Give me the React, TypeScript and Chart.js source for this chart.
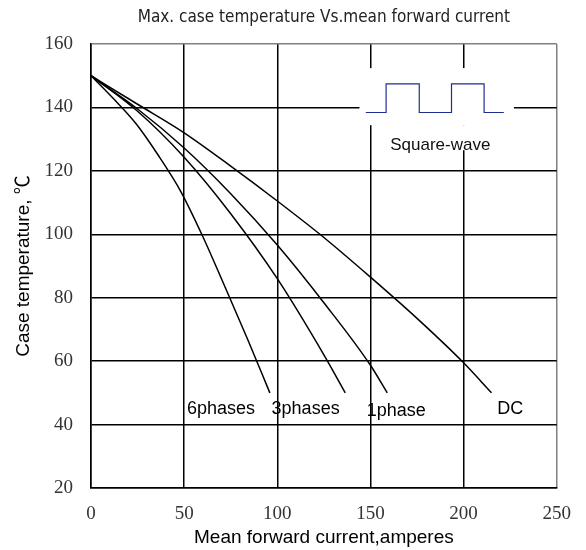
import React, { useEffect, useRef } from "react";
import { Chart, registerables } from "chart.js";

Chart.register(...registerables);

// ---- data ----
const xTicks = [0, 50, 100, 150, 200, 250];
const yTicks = [20, 40, 60, 80, 100, 120, 140, 160];

const dcCurrent = [0, 25, 50, 75, 100, 125, 150, 175, 200, 215];
const dcTemp = [150, 141, 132, 121.5, 110.5, 99, 86.5, 73.5, 59.5, 50];

const phase1Current = [0, 25, 50, 75, 100, 125, 150, 159];
const phase1Temp = [150, 139.5, 127.2, 112.8, 96.6, 78.4, 58.7, 50];

const phase3Current = [0, 25, 50, 75, 100, 125, 136.5];
const phase3Temp = [150, 138.8, 124.3, 106.5, 86, 62, 50];

const phase6Current = [0, 12, 24, 36, 48, 60, 72, 84, 96];
const phase6Temp = [150, 142.8, 135, 125, 113.7, 99.3, 83.3, 67, 50];

const waveX = [147.5, 158.4, 158.4, 176.2, 176.2, 193.5, 193.5, 211, 211, 221.6];
const waveY = [138.4, 138.4, 147.4, 147.4, 138.4, 138.4, 147.4, 147.4, 138.4, 138.4];

const curveLabels = ["6phases", "3phases", "1phase", "DC"];
const curveLabelX = [69.8, 115.2, 163.9, 225];
const curveLabelY = [45.0, 45.0, 44.4, 45.0];

const waveLabel = "Square-wave";
const waveLabelX = 187.5;
const waveLabelY = 128.2;

// white areas behind the inset (data units: x0, x1, yTop, yBottom)
const insetBoxes = [
  [144.1, 227, 152.4, 134.4],
  [152.1, 223.8, 134.4, 126.5],
];

const titleText = "Max. case temperature Vs.mean forward current";
const xTitle = "Mean forward current,amperes";
const yTitle = "Case temperature, \u2103";

const SANS = "'Liberation Sans', Arial, 'Noto Sans CJK SC', sans-serif";
const SERIF = "'Liberation Serif', 'Times New Roman', serif";
const NARROW = "'Liberation Sans Narrow', 'DejaVu Sans Condensed', 'Liberation Sans', sans-serif";

export default function App() {
  const ref = useRef<HTMLCanvasElement>(null);

  useEffect(() => {
    const canvas = ref.current;
    if (!canvas) return;

    const pts = (xs: number[], ys: number[]) => xs.map((x, i) => ({ x, y: ys[i] }));
    const curve = (label: string, xs: number[], ys: number[]) => ({
      label,
      data: pts(xs, ys),
      borderColor: "#000",
      borderWidth: 1.5,
      pointRadius: 0,
      fill: false,
      cubicInterpolationMode: "monotone" as const,
    });

    const insetPlugin = {
      id: "insetPlugin",
      beforeDatasetsDraw(chart: any) {
        const { ctx, scales } = chart;
        const xs = scales.x;
        const ys = scales.y;
        ctx.save();
        ctx.fillStyle = "#fff";
        insetBoxes.forEach(([x0, x1, yt, yb]) => {
          const px0 = xs.getPixelForValue(x0);
          const px1 = xs.getPixelForValue(x1);
          const py0 = ys.getPixelForValue(yt);
          const py1 = ys.getPixelForValue(yb);
          ctx.fillRect(px0, py0, px1 - px0, py1 - py0);
        });
        ctx.restore();
      },
      afterDatasetsDraw(chart: any) {
        const { ctx, scales } = chart;
        const xs = scales.x;
        const ys = scales.y;
        ctx.save();
        ctx.fillStyle = "#000";
        ctx.textAlign = "center";
        ctx.textBaseline = "middle";
        ctx.font = `18px ${SANS}`;
        curveLabels.forEach((t, i) => {
          ctx.fillText(t, xs.getPixelForValue(curveLabelX[i]), ys.getPixelForValue(curveLabelY[i]));
        });
        ctx.font = `17px ${SANS}`;
        ctx.fillStyle = "#111";
        ctx.fillText(waveLabel, xs.getPixelForValue(waveLabelX), ys.getPixelForValue(waveLabelY));
        ctx.restore();
      },
    };

    const chart = new Chart(canvas, {
      type: "line",
      data: {
        datasets: [
          curve("DC", dcCurrent, dcTemp),
          curve("1phase", phase1Current, phase1Temp),
          curve("3phases", phase3Current, phase3Temp),
          curve("6phases", phase6Current, phase6Temp),
          {
            label: "Square-wave",
            data: pts(waveX, waveY),
            borderColor: "#1f2d8f",
            borderWidth: 1.2,
            pointRadius: 0,
            fill: false,
            tension: 0,
          } as any,
        ],
      },
      options: {
        animation: false,
        responsive: false,
        devicePixelRatio: 1,
        layout: { padding: { top: 0, right: 28, bottom: 0, left: 0 } },
        plugins: {
          legend: { display: false },
          tooltip: { enabled: false },
          title: {
            display: true,
            text: titleText,
            fullSize: false,
            color: "#222",
            padding: { top: 7.8, bottom: 15.8 },
            font: { family: NARROW, size: 17, weight: "normal" as any, lineHeight: 1.2 },
          },
        },
        scales: {
          x: {
            type: "linear",
            min: 0,
            max: 250,
            afterBuildTicks: (s: any) => {
              s.ticks = xTicks.map((v) => ({ value: v }));
            },
            afterFit: (s: any) => {
              s.height = 62;
            },
            ticks: {
              padding: 15,
              color: "#333",
              font: { family: SERIF, size: 19 },
              maxRotation: 0,
            },
            grid: {
              color: (c: any) => (c.tick && c.tick.value === 250 ? "#808080" : "#000"),
              lineWidth: 1.5,
              drawTicks: false,
            },
            border: { color: "#000", width: 1.5 },
            title: {
              display: true,
              text: xTitle,
              color: "#000",
              padding: { top: 0, bottom: 1 },
              font: { family: SANS, size: 19, lineHeight: 1.2 },
            },
          },
          y: {
            type: "linear",
            min: 20,
            max: 160,
            afterBuildTicks: (s: any) => {
              s.ticks = yTicks.map((v) => ({ value: v }));
            },
            afterFit: (s: any) => {
              s.width = 91;
            },
            ticks: {
              padding: 18,
              color: "#333",
              font: { family: SERIF, size: 19 },
            },
            grid: {
              color: (c: any) => (c.tick && c.tick.value === 160 ? "#808080" : "#000"),
              lineWidth: 1.5,
              drawTicks: false,
            },
            border: { color: "#000", width: 1.5 },
            title: {
              display: true,
              text: yTitle,
              color: "#000",
              padding: { top: 12.6, bottom: 0 },
              font: { family: SANS, size: 19, lineHeight: 1.2 },
            },
          },
        },
      },
      plugins: [insetPlugin],
    });

    return () => {
      chart.destroy();
    };
  }, []);

  return (
    <div
      style={{
        position: "fixed",
        left: 0,
        top: 0,
        width: 586,
        height: 550,
        background: "#fff",
      }}
    >
      <canvas ref={ref} width={586} height={550} style={{ display: "block" }} />
    </div>
  );
}
